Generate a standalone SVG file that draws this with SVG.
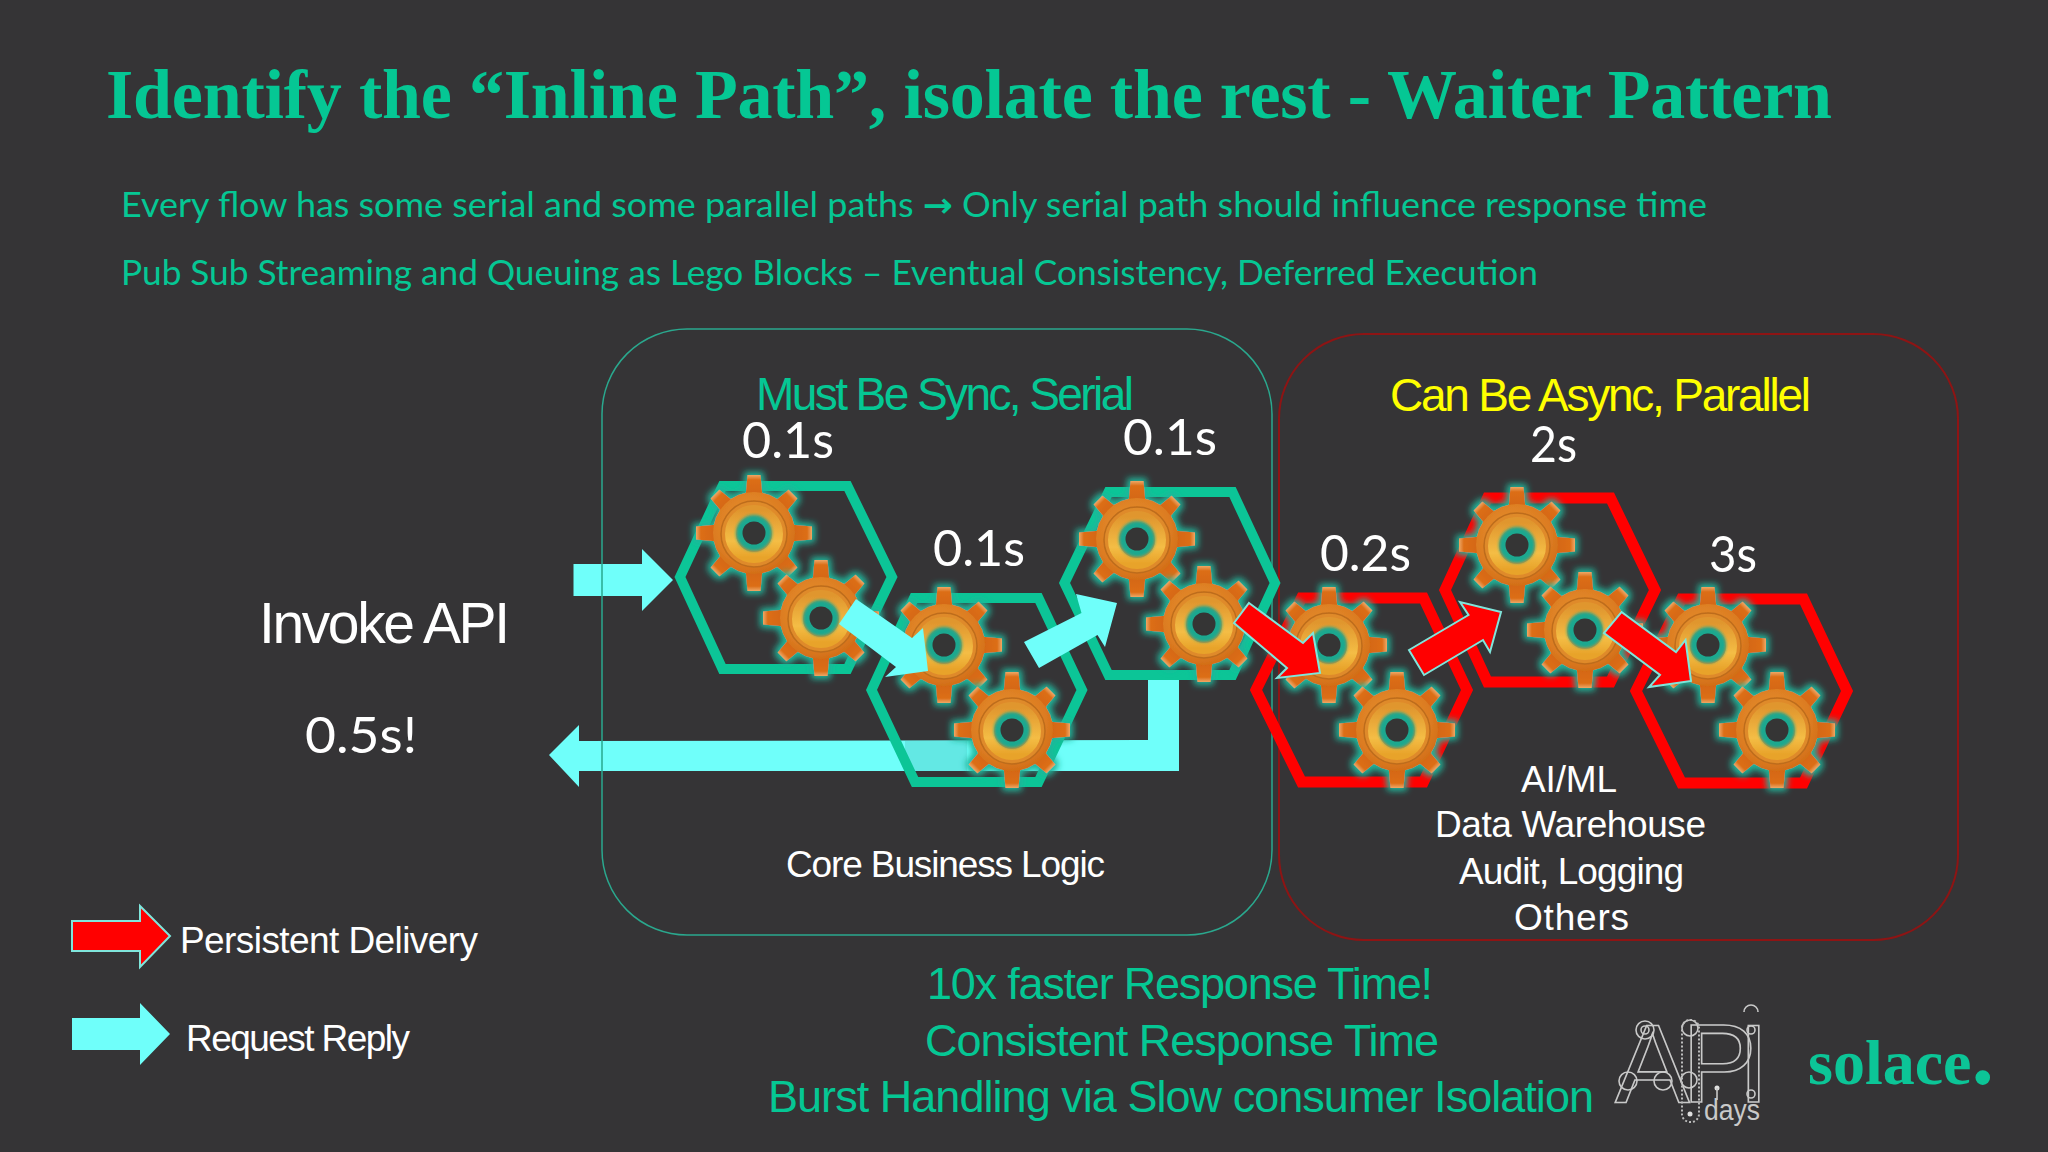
<svg xmlns="http://www.w3.org/2000/svg" width="2048" height="1152" viewBox="0 0 2048 1152">
<style>
.bg{fill:#353436}
.tg{fill:#05c794}
.w{fill:#fff}
.sans{font-family:"Liberation Sans",Arial,sans-serif}
.cal{font-family:Lato,"Open Sans","DejaVu Sans",sans-serif}
.hg{fill:none;stroke:#0cc597;stroke-width:10;stroke-linejoin:miter}
.hr{fill:none;stroke:#ff0000;stroke-width:11;stroke-linejoin:miter}
.cy{fill:#6ffffa}
.rd{fill:#ff0000;stroke:#7fe6dc;stroke-width:2}
.lg{fill:none;stroke:#c9c9c9;stroke-width:1.6}
.ld{fill:none;stroke:#bdbdbd;stroke-width:2;stroke-dasharray:2 2}
</style>
<defs>
<filter id="glow" x="-30%" y="-30%" width="160%" height="160%">
<feMorphology in="SourceAlpha" operator="dilate" radius="2.5" result="d"/>
<feGaussianBlur in="d" stdDeviation="3" result="b"/>
<feFlood flood-color="#1fb59a" flood-opacity="1"/>
<feComposite in2="b" operator="in" result="g"/>
<feMerge><feMergeNode in="g"/><feMergeNode in="SourceGraphic"/></feMerge>
</filter>
<filter id="sb" x="-30%" y="-30%" width="160%" height="160%"><feGaussianBlur stdDeviation="1.4"/></filter>
<radialGradient id="body" cx="45%" cy="40%" r="65%"><stop offset="0" stop-color="#e8962f"/><stop offset="0.7" stop-color="#dc7c22"/><stop offset="1" stop-color="#cf6a14"/></radialGradient>
<linearGradient id="tooth" x1="0" y1="0" x2="0" y2="1"><stop offset="0" stop-color="#eda867"/><stop offset="0.22" stop-color="#dc6e18"/><stop offset="1" stop-color="#d2650f"/></linearGradient>
<linearGradient id="ring" x1="0" y1="0" x2="0" y2="1"><stop offset="0" stop-color="#e0962e"/><stop offset="0.65" stop-color="#f4bd45"/><stop offset="1" stop-color="#e8a32a"/></linearGradient>
<polygon id="t" points="-8.5,-36 -6.5,-58 6.5,-58 8.5,-36" fill="url(#tooth)"/>
<g id="gear" filter="url(#glow)">
<use href="#t"/><use href="#t" transform="rotate(45) scale(.95)"/><use href="#t" transform="rotate(90)"/><use href="#t" transform="rotate(135) scale(.95)"/><use href="#t" transform="rotate(180)"/><use href="#t" transform="rotate(225) scale(.95)"/><use href="#t" transform="rotate(270)"/><use href="#t" transform="rotate(315) scale(.95)"/>
<circle r="41" fill="url(#body)"/>
<circle r="33" cy="1" fill="#df8a2a" stroke="#bd6c1c" stroke-width="1.5"/>
<circle r="23.5" cy="1" fill="none" stroke="url(#ring)" stroke-width="11"/>
<circle r="18" fill="#1fa88f" filter="url(#sb)"/>
<circle r="11.5" fill="#353436"/>
</g>
</defs>
<rect class="bg" width="2048" height="1152"/>

<g id="heading">
<text x="106" y="118" font-family="'Liberation Serif','Times New Roman',serif" font-weight="700" font-size="70" class="tg" textLength="1726" lengthAdjust="spacing">Identify the “Inline Path”, isolate the rest - Waiter Pattern</text>
<text x="121" y="217" class="tg cal" font-size="34" textLength="1586" lengthAdjust="spacingAndGlyphs">Every flow has some serial and some parallel paths <tspan font-family="'DejaVu Sans',sans-serif" font-weight="700">→</tspan> Only serial path should influence response time</text>
<text x="121" y="285" class="tg cal" font-size="34" textLength="1417" lengthAdjust="spacingAndGlyphs">Pub Sub Streaming and Queuing as Lego Blocks – Eventual Consistency, Deferred Execution</text>
</g>

<g id="connectors-under">
<polygon class="cy" points="573.5,564 642,564 642,549 673,580 642,611 642,596 573.5,596"/>
<polygon class="cy" points="579,741 1148,740 1148,680 1179,680 1179,771 579,771 579,787 549,755 579,725"/>
<rect x="905" y="741" width="62" height="30" fill="#63e8e4"/>
</g>

<g id="box-sync"><rect x="602" y="329" width="670" height="606" rx="85" fill="none" stroke="#2aa88e" stroke-width="1.5"/></g>
<g id="box-async"><rect x="1279" y="334" width="679" height="606" rx="85" fill="none" stroke="#8e1414" stroke-width="2"/></g>

<g id="step-1"><polygon class="hg" points="680,577 722.5,486 847.5,486 892,577 847.5,669 722.5,669"/><use href="#gear" transform="translate(754,533)"/><use href="#gear" transform="translate(821,618)"/></g>
<g id="step-2"><polygon class="hg" points="871.5,690 914,598 1038.5,598 1082,690 1038.5,782 915,782"/><use href="#gear" transform="translate(944,645)"/><use href="#gear" transform="translate(1012,730)"/></g>
<g id="step-3"><polygon class="hg" points="1064.5,583 1108.5,492 1232.5,492 1275,583 1232.5,675 1108.5,675"/><use href="#gear" transform="translate(1137,539)"/><use href="#gear" transform="translate(1204,624)"/></g>
<g id="step-4"><polygon class="hr" points="1256,690 1301.5,598 1423.5,598 1467,690 1423.5,782 1301.5,782"/><use href="#gear" transform="translate(1329,645)"/><use href="#gear" transform="translate(1397,730)"/></g>
<g id="step-5"><polygon class="hr" points="1445,590 1487.5,498 1610.5,498 1655,590 1610.5,682 1487.5,682"/><use href="#gear" transform="translate(1517,545)"/><use href="#gear" transform="translate(1585,630)"/></g>
<g id="step-6"><polygon class="hr" points="1636,691 1681.5,599 1803.5,599 1847,691 1803.5,783 1681.5,783"/><use href="#gear" transform="translate(1708,645)"/><use href="#gear" transform="translate(1777,730)"/></g>

<g id="connectors">
<polygon class="cy" points="856,599 912,638 923,628 928,671 885,677 896,667 839,624"/>
<polygon class="cy" points="1024,642 1081.5,613 1076,594 1117,603 1105,647 1097.5,635 1039,668"/>
<polygon class="rd" points="1249,603 1303,643 1313,633 1320,673 1277,678 1287,668 1234,623"/>
<polygon class="rd" points="1409,650 1468.5,615 1460,602 1501,612 1490,652 1483,640 1424,675"/>
<polygon class="rd" points="1621.5,612 1676,652 1685.5,640 1691,681 1649,687 1660,675 1604,633"/>
</g>

<g id="labels">
<text x="756" y="410" class="tg sans" font-size="46" textLength="378" lengthAdjust="spacing">Must Be Sync, Serial</text>
<text x="1390" y="411" class="sans" fill="#ffff00" font-size="46" textLength="421" lengthAdjust="spacing">Can Be Async, Parallel</text>
<text x="742" y="458" class="w cal" font-size="50" textLength="92" lengthAdjust="spacingAndGlyphs">0.1s</text>
<text x="933" y="566" class="w cal" font-size="50" textLength="92" lengthAdjust="spacingAndGlyphs">0.1s</text>
<text x="1123" y="455" class="w cal" font-size="50" textLength="94" lengthAdjust="spacingAndGlyphs">0.1s</text>
<text x="1320" y="571" class="w cal" font-size="50" textLength="91" lengthAdjust="spacingAndGlyphs">0.2s</text>
<text x="1530" y="462" class="w cal" font-size="50" textLength="47" lengthAdjust="spacingAndGlyphs">2s</text>
<text x="1709" y="572" class="w cal" font-size="50" textLength="48" lengthAdjust="spacingAndGlyphs">3s</text>
<text x="259" y="643" class="w sans" font-size="57" textLength="251" lengthAdjust="spacing">Invoke API</text>
<text x="305" y="753" class="w cal" font-size="50" textLength="112" lengthAdjust="spacingAndGlyphs">0.5s!</text>
<text x="786" y="877" class="w sans" font-size="37" textLength="319" lengthAdjust="spacing">Core Business Logic</text>
<text x="1521" y="792" class="w sans" font-size="37" textLength="96" lengthAdjust="spacing">AI/ML</text>
<text x="1435" y="837" class="w sans" font-size="37" textLength="271" lengthAdjust="spacing">Data Warehouse</text>
<text x="1459" y="884" class="w sans" font-size="37" textLength="225" lengthAdjust="spacing">Audit, Logging</text>
<text x="1514" y="930" class="w sans" font-size="37" textLength="115" lengthAdjust="spacing">Others</text>
<text x="927" y="999" class="tg sans" font-size="45" textLength="506" lengthAdjust="spacing">10x faster Response Time!</text>
<text x="925" y="1056" class="tg sans" font-size="45" textLength="514" lengthAdjust="spacing">Consistent Response Time</text>
<text x="768" y="1112" class="tg sans" font-size="45" textLength="826" lengthAdjust="spacing">Burst Handling via Slow consumer Isolation</text>
</g>

<g id="legend">
<polygon class="rd" points="72,921 140,921 140,906 170,936 140,967 140,951 72,951"/>
<text x="180" y="953" class="w sans" font-size="37" textLength="298" lengthAdjust="spacing">Persistent Delivery</text>
<polygon class="cy" points="72,1018 140,1018 140,1003 170,1034 140,1065 140,1050 72,1050"/>
<text x="186" y="1051" class="w sans" font-size="37" textLength="224" lengthAdjust="spacing">Request Reply</text>
</g>

<g id="logo-apidays">
<text x="1615 1682 1738" y="1102" class="sans lg" font-size="112">API</text>
<circle class="lg" cx="1645" cy="1030" r="9"/><circle class="lg" cx="1645" cy="1030" r="4"/>
<circle class="lg" cx="1628" cy="1081" r="9"/><circle class="lg" cx="1663" cy="1081" r="9"/>
<circle class="lg" cx="1690" cy="1028" r="8"/><circle class="lg" cx="1689" cy="1080" r="8"/>
<rect class="ld" x="1682" y="1020" width="17" height="102" rx="8"/>
<circle class="lg" cx="1751" cy="1030" r="4"/><circle class="lg" cx="1751" cy="1094" r="4"/>
<path class="lg" d="M1744 1012a7 7 0 0 1 14 0"/>
<circle cx="1690" cy="1114" r="2.5" fill="#e0e0e0"/><circle cx="1717" cy="1088" r="2.5" fill="#e0e0e0"/>
<path class="lg" d="M1717 1088V1100"/>
<text x="1704" y="1120" class="sans" fill="#c9c9c9" font-size="30" textLength="56" lengthAdjust="spacingAndGlyphs">days</text>
</g>
<g id="logo-solace">
<text x="1808" y="1084" font-family="'Liberation Serif',serif" font-weight="700" font-size="64" fill="#0cc597">solace<tspan font-size="90">.</tspan></text>
</g>
</svg>
